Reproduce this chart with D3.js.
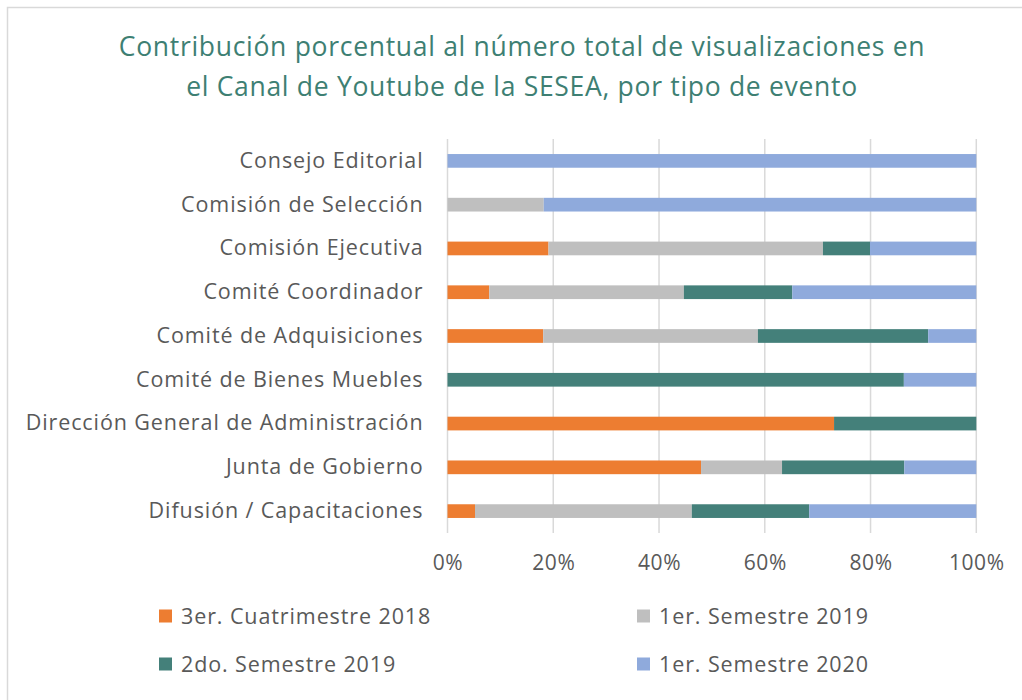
<!DOCTYPE html>
<html>
<head>
<meta charset="utf-8">
<script src="https://cdn.jsdelivr.net/npm/d3@7/dist/d3.min.js"></script>
<style>
  html, body { margin: 0; padding: 0; background: #fff; }
  svg { display: block; }
  text { font-family: "Open Sans", Lato, sans-serif; }
</style>
</head>
<body>
<svg id="chart" width="1022" height="700"></svg>
<script>
const titleLines = ["Contribución porcentual al número total de visualizaciones en",
                    "el Canal de Youtube de la SESEA, por tipo de evento"];
const categories = ["Consejo Editorial", "Comisión de Selección", "Comisión Ejecutiva",
  "Comité Coordinador", "Comité de Adquisiciones", "Comité de Bienes Muebles",
  "Dirección General de Administración", "Junta de Gobierno", "Difusión / Capacitaciones"];
const seriesNames = ["3er. Cuatrimestre 2018", "1er. Semestre 2019", "2do. Semestre 2019", "1er. Semestre 2020"];
const s2018c3 = [0, 0, 19.1, 7.9, 18.1, 0, 73.1, 47.9, 5.2];
const s2019s1 = [0, 18.2, 51.9, 36.8, 40.6, 0, 0, 15.3, 41.0];
const s2019s2 = [0, 0, 8.9, 20.5, 32.2, 86.3, 26.9, 23.1, 22.2];
const s2020s1 = [100, 81.8, 20.1, 34.8, 9.1, 13.7, 0, 13.6, 31.6];
const tickValues = [0, 0.2, 0.4, 0.6, 0.8, 1.0];
const colors = ["#ED7D31", "#BFBFBF", "#44807A", "#8FAADC"];

const svg = d3.select("#chart");

// outer border
svg.append("path").attr("d", "M7.5,710 V7.5 H1030").attr("fill", "none")
  .attr("stroke", "#d9d9d9").attr("stroke-width", 1.5);

// title
svg.append("g").selectAll("text").data(titleLines).join("text")
  .attr("x", 522).attr("y", (d, i) => 56 + i * 40)
  .attr("text-anchor", "middle").attr("font-size", 26.5).attr("fill", "#3E7F73")
  .attr("letter-spacing", "0.7px")
  .text(d => d);

const rows = categories.map((c, i) => {
  const vals = [s2018c3[i], s2019s1[i], s2019s2[i], s2020s1[i]];
  const tot = d3.sum(vals);
  const o = { cat: c };
  seriesNames.forEach((s, k) => o[s] = vals[k] / tot);
  return o;
});
const stacked = d3.stack().keys(seriesNames)(rows);

const x = d3.scaleLinear().domain([0, 1]).range([447.5, 976.3]);
const y = d3.scaleBand().domain(categories).range([139, 533]).paddingInner(0.687).paddingOuter(0.3435);

// gridlines
svg.append("g").selectAll("line").data(tickValues).join("line")
  .attr("x1", d => x(d)).attr("x2", d => x(d)).attr("y1", 139).attr("y2", 533)
  .attr("stroke", "#d9d9d9").attr("stroke-width", 1.5);

// bars
svg.append("g").selectAll("g").data(stacked).join("g")
  .attr("fill", (d, i) => colors[i])
  .selectAll("rect").data(d => d.filter(p => p[1] - p[0] > 0)).join("rect")
  .attr("x", d => x(d[0])).attr("width", d => x(d[1]) - x(d[0]))
  .attr("y", d => y(d.data.cat)).attr("height", y.bandwidth());

// x axis
const xAxis = svg.append("g").attr("transform", "translate(0,533)")
  .call(d3.axisBottom(x).tickValues(tickValues).tickFormat(d3.format(".0%")).tickSize(0).tickPadding(22));
xAxis.select(".domain").remove();
xAxis.selectAll("text").attr("font-size", 21).attr("fill", "#595959")
  .attr("letter-spacing", "0.6px").style("font-family", "'Open Sans', sans-serif");

// y axis
const yAxis = svg.append("g").attr("transform", "translate(447.5,0)")
  .call(d3.axisLeft(y).tickSize(0).tickPadding(24));
yAxis.select(".domain").remove();
yAxis.selectAll("text").attr("font-size", 21.5).attr("fill", "#595959")
  .attr("letter-spacing", "0.9px").style("font-family", "'Open Sans', sans-serif");

// legend
const legPos = [[159, 616], [637, 616], [159, 664], [637, 664]];
const leg = svg.append("g").selectAll("g").data(seriesNames).join("g")
  .attr("transform", (d, i) => `translate(${legPos[i][0]},${legPos[i][1]})`);
leg.append("rect").attr("x", 0).attr("y", -6.5).attr("width", 13).attr("height", 13)
  .attr("fill", (d, i) => colors[i]);
leg.append("text").attr("x", 22).attr("y", 0).attr("dy", "0.35em")
  .attr("font-size", 21.5).attr("fill", "#595959").attr("letter-spacing", "0.9px").text(d => d);
</script>
</body>
</html>
